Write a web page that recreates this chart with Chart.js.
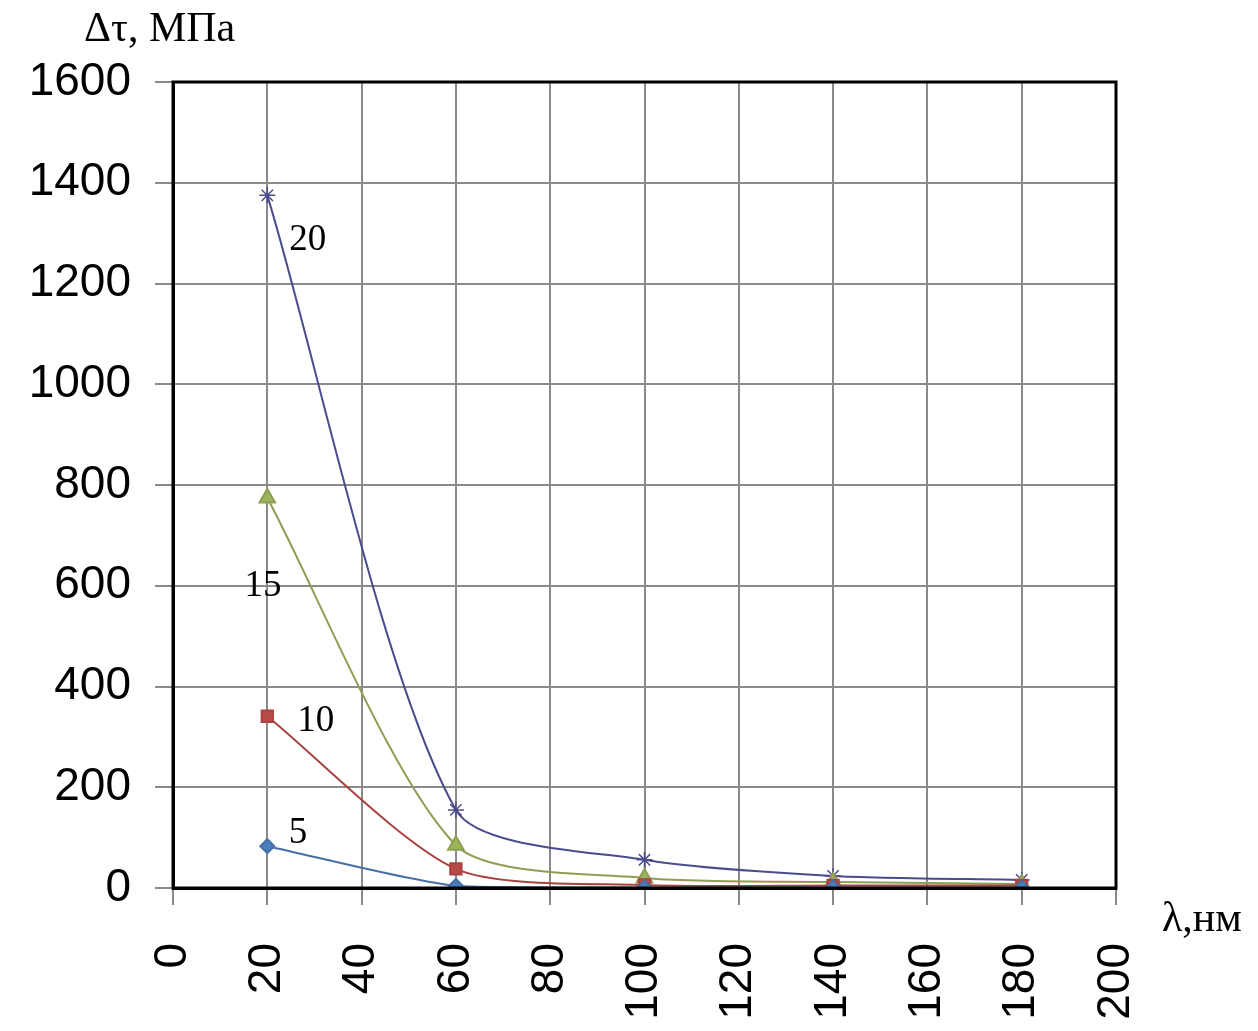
<!DOCTYPE html>
<html>
<head>
<meta charset="utf-8">
<script src="https://cdn.jsdelivr.net/npm/chart.js@4.4.0/dist/chart.umd.min.js"></script>
<style>
  html, body { margin: 0; padding: 0; background: #fff; }
  #wrap { width: 1258px; height: 1031px; }
</style>
</head>
<body>
<div id="wrap"><canvas id="chart" width="1258" height="1031"></canvas></div>
<script>
// lambda, nm
const lambdas = [20, 60, 100, 140, 180];
// delta tau, MPa, one series per curve label
const s5 = [83, 4, 1, 1, 1];
const s10 = [341, 38, 6, 5, 5];
const s15 = [774, 85, 20, 12, 8];
const s20 = [1375, 155, 56, 24, 16];
const xTicks = [0, 20, 40, 60, 80, 100, 120, 140, 160, 180, 200];
const yTicks = [0, 200, 400, 600, 800, 1000, 1200, 1400, 1600];

// curve labels placed at data coordinates
const curveLabels = [
    { text: '20', x: 28.6, y: 1286 },
    { text: '15', x: 19.1, y: 598 },
    { text: '10', x: 30.3, y: 330 },
    { text: '5', x: 26.5, y: 109 }
];

function pts(vals) {
    return lambdas.map((x, i) => ({ x: x, y: vals[i] }));
}

const serif = '"Liberation Serif", "Times New Roman", serif';

const textPlugin = {
    id: 'texts',
    afterDraw(chart) {
        const ctx = chart.ctx;
        const a = chart.chartArea;
        const xs = chart.scales.x, ys = chart.scales.y;
        ctx.save();
        // frame
        ctx.strokeStyle = '#000';
        ctx.lineWidth = 3;
        ctx.strokeRect(a.left, a.top, a.right - a.left, a.bottom - a.top);
        // curve labels
        ctx.fillStyle = '#000';
        ctx.font = '37px ' + serif;
        ctx.textAlign = 'center';
        ctx.textBaseline = 'middle';
        curveLabels.forEach(l => {
            ctx.fillText(l.text, xs.getPixelForValue(l.x), ys.getPixelForValue(l.y));
        });
        // axis titles
        ctx.textAlign = 'left';
        ctx.font = '42px ' + serif;
        ctx.fillText('Δτ, МПа', 84, 30);
        ctx.fillText('λ,нм', 1162, 920);
        ctx.restore();
    }
};

new Chart(document.getElementById('chart').getContext('2d'), {
    type: 'line',
    data: {
        datasets: [
            {
                label: '5',
                data: pts(s5),
                borderColor: '#4a6fa5',
                backgroundColor: '#4a7ebb',
                pointStyle: 'rectRot',
                pointRadius: 7,
                borderWidth: 2,
                tension: 0.25
            },
            {
                label: '10',
                data: pts(s10),
                borderColor: '#a84340',
                backgroundColor: '#b84a47',
                pointStyle: 'rect',
                pointRadius: 8,
                borderWidth: 2,
                tension: 0.25
            },
            {
                label: '15',
                data: pts(s15),
                borderColor: '#8c9f52',
                backgroundColor: '#9bb35a',
                pointStyle: 'triangle',
                pointRadius: 9,
                borderWidth: 2,
                tension: 0.25
            },
            {
                label: '20',
                data: pts(s20),
                borderColor: '#4c4c8c',
                backgroundColor: '#4c4c8c',
                pointStyle: 'star',
                pointRadius: 8,
                pointBorderWidth: 1.5,
                borderWidth: 2,
                tension: 0.25
            }
        ]
    },
    options: {
        responsive: false,
        animation: false,
        layout: { padding: { top: 82, right: 142, left: 0, bottom: 0 } },
        plugins: {
            legend: { display: false },
            tooltip: { enabled: false }
        },
        scales: {
            x: {
                type: 'linear',
                min: 0,
                max: 200,
                afterBuildTicks: s => { s.ticks = xTicks.map(v => ({ value: v })); },
                afterFit: s => { s.height = 143; },
                grid: { color: '#8a8a8a', lineWidth: 2, tickLength: 17, tickColor: '#8a8a8a' },
                border: { color: '#000', width: 3 },
                ticks: {
                    minRotation: 90,
                    maxRotation: 90,
                    padding: 38,
                    color: '#000',
                    callback: v => String(v),
                    font: { family: '"Liberation Sans", Arial, sans-serif', size: 46 }
                }
            },
            y: {
                min: 0,
                max: 1600,
                afterBuildTicks: s => { s.ticks = yTicks.map(v => ({ value: v })); },
                afterFit: s => { s.width = 173; },
                grid: { color: '#8a8a8a', lineWidth: 2, tickLength: 18, tickColor: '#8a8a8a' },
                border: { color: '#000', width: 3 },
                ticks: {
                    padding: 24,
                    color: '#000',
                    callback: v => String(v),
                    font: { family: '"Liberation Sans", Arial, sans-serif', size: 46 }
                }
            }
        }
    },
    plugins: [textPlugin]
});
</script>
</body>
</html>
